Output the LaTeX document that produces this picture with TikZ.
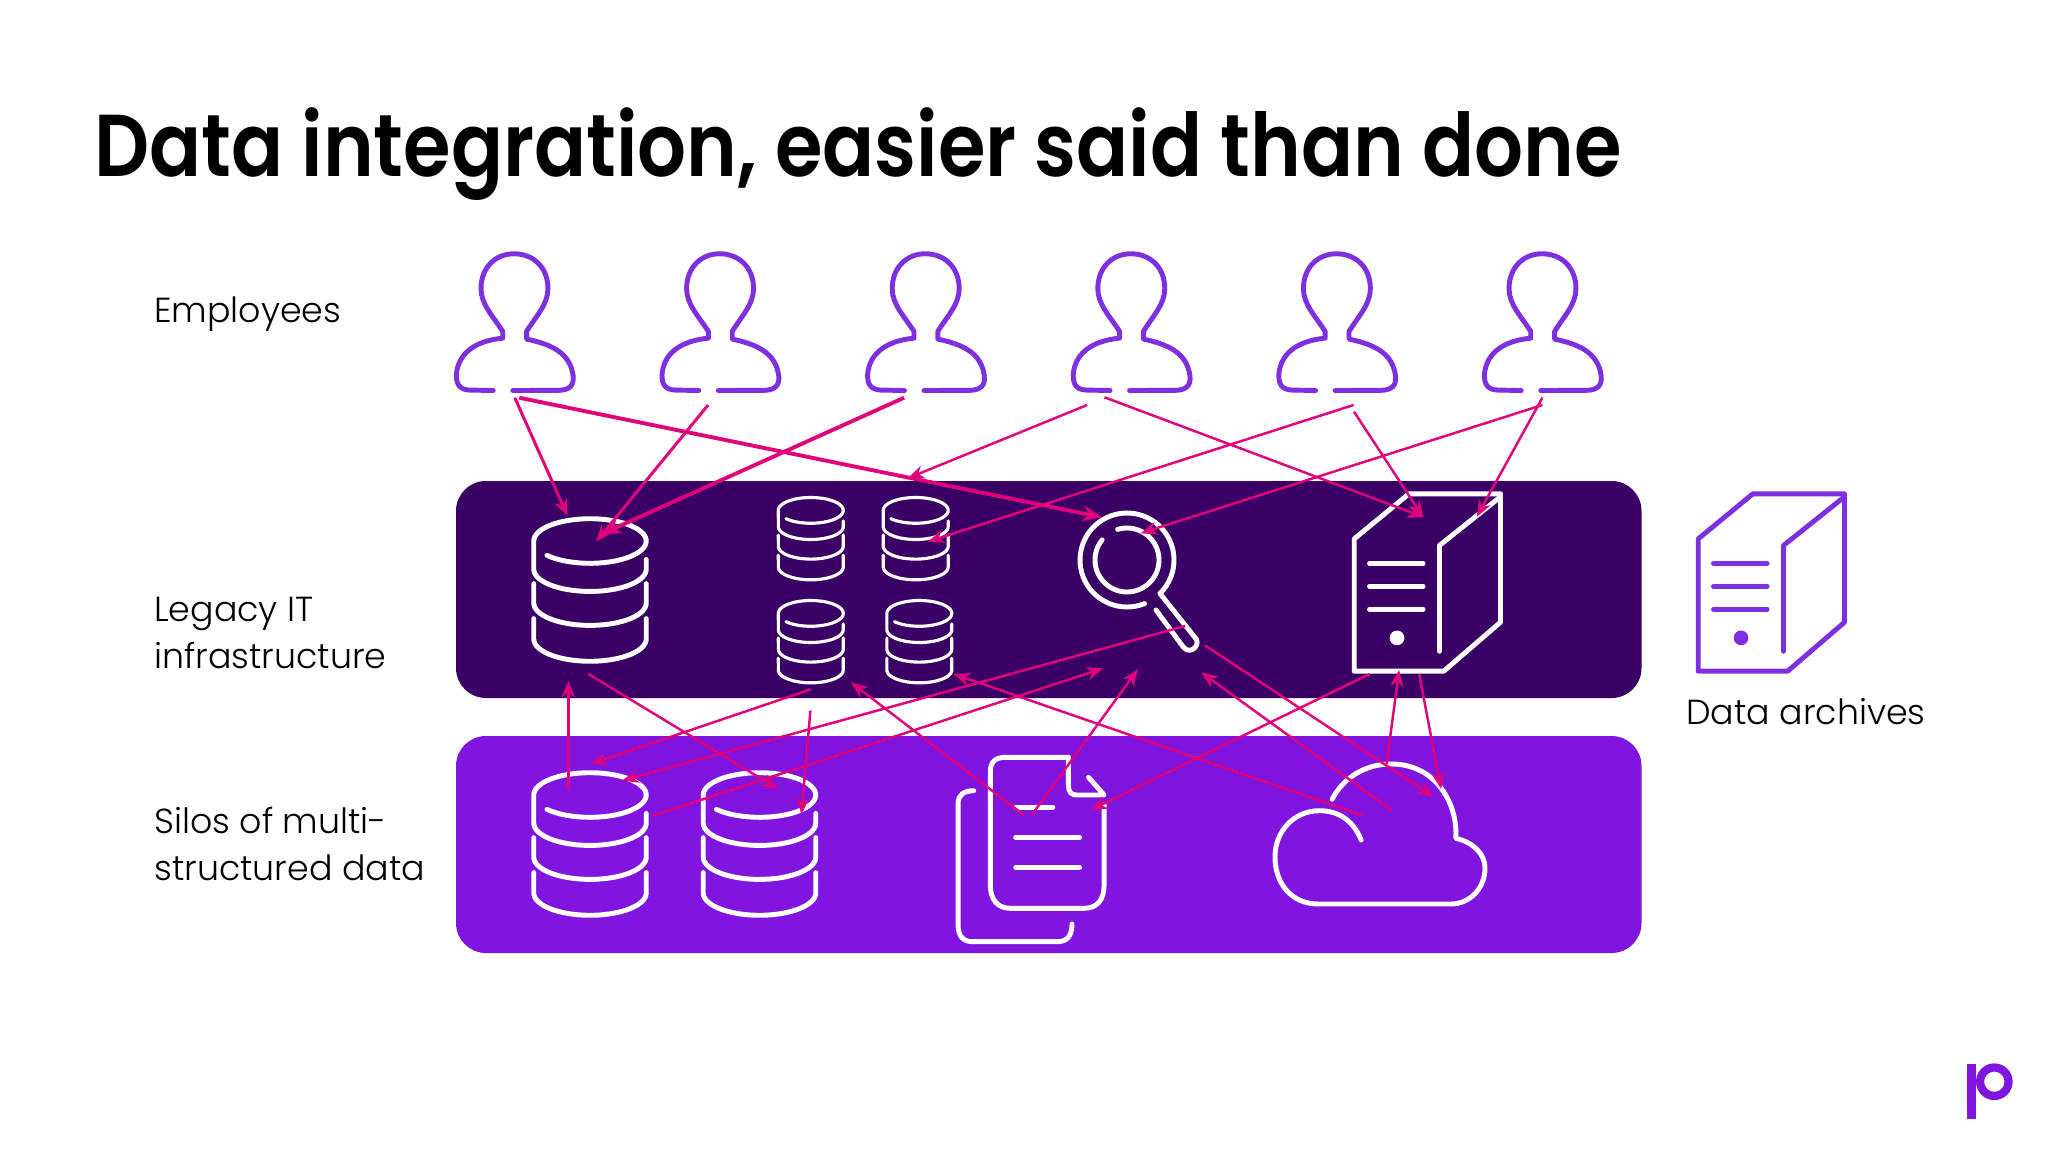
\documentclass[tikz,border=0pt]{standalone}
\usepackage{fontspec}
\usepackage{tikz}
\usetikzlibrary{arrows.meta}
\newfontfamily\titlefont{Poppins SemiBold}
\newfontfamily\labelfont{Poppins Light}
\definecolor{deepviolet}{HTML}{3A0066}
\definecolor{brightviolet}{HTML}{7F15DE}
\definecolor{peoplecolor}{HTML}{7E2FE0}
\definecolor{flowpink}{HTML}{E0007C}
\tikzset{
    iconline/.style={line cap=round,line join=round},
    bigicon/.style={white,line width=2.8pt},
    smallicon/.style={white,line width=1.8pt},
    flow/.style={flowpink,line width=1.4pt,->},
    flowthick/.style={flowpink,line width=2.2pt,-{Stealth[length=11pt,width=9pt]}},
    sidelabel/.style={inner sep=0pt,anchor=north west,align=left,font=\labelfont\fontsize{19.8}{26.6}\selectfont},
    band/.style={rounded corners=17pt},
    dbstack/.pic={
        \draw[iconline](58,42)--plot[domain=0:180,samples=30]({58*cos(\x)},{52+23*sin(\x)})
            --plot[domain=180:500,samples=50]({58*cos(\x)},{23+23*sin(\x)});
        \foreach \ytop/\ymid in {67/87,103/124}
            \draw[iconline](58,\ytop)--plot[domain=0:180,samples=30]({58*cos(\x)},{\ymid+23*sin(\x)})--(-58,\ytop);
    },
    person/.pic={
        \draw[iconline](-21.4,-1)--(-46,-1.5)..controls(-56,-2)and(-59.4,-7)..(-59.4,-17)
            ..controls(-58,-38)and(-42,-52)..(-11.6,-55)--(-11.6,-62)
            ..controls(-22,-78)and(-34,-90)..(-34,-106)..controls(-34,-128)and(-19,-142)..(0,-142)
            ..controls(20,-142)and(35,-128)..(35,-106)..controls(35,-90)and(23,-78)..(13,-62)
            --(13,-54)..controls(42,-48)and(58,-38)..(61,-16)..controls(62,-6)and(57,-1.5)..(46,-1.2)--(-1.3,-1);
    },
    server/.pic={
        \draw[iconline](0,46)--(55.8,0)--(149.3,0)--(149.3,131)--(91.3,181)--(0,181)--cycle;
        \draw[iconline](149.3,3)--(87,52.7)--(87,160.7);
        \foreach \yline in {71,94.4,117.7}
            \draw[iconline](15.6,\yline)--(70.3,\yline);
        \fill(43.7,147)circle(7.5);
    }
}
\begin{document}
\begin{tikzpicture}[x=0.02cm,y=-0.02cm,>={Stealth[length=9.5pt,width=7.5pt]}]
        \fill[white](0,0)rectangle(2048,1152);

        \node[inner sep=0pt,anchor=base west,xscale=0.875,transform shape,font=\titlefont\fontsize{50}{60}\selectfont](title)at(94,177){Data integration, easier said than done};
        \node[sidelabel](employees)at(154,296){Employees};
        \node[sidelabel](legacy)at(154,597){Legacy IT\\infrastructure};
        \node[sidelabel](silos)at(154,807){Silos of multi-\\structured data};
        \node[sidelabel](archives)at(1686,698){Data archives};

        \fill[deepviolet,band](456,481)rectangle(1641.5,698);
        \fill[brightviolet,band](456,736)rectangle(1641.5,953);

        % people
        \foreach \px in {514,719.6,925.2,1130.8,1336.4,1542}
            \pic[peoplecolor,line width=2.8pt,scale=0.97]at(\px,391.5){person};

        % legacy icons
        \pic[bigicon,scale=0.97]at(590,518.7){dbstack};
        \pic[smallicon,scale=0.56]at(810.8,497.5){dbstack};
        \pic[smallicon,scale=0.56]at(915.7,497.5){dbstack};
        \pic[smallicon,scale=0.56]at(810.8,600.5){dbstack};
        \pic[smallicon,scale=0.56]at(919.3,600.5){dbstack};
        \pic[bigicon,scale=0.98]at(1354.2,493.8){server};
        \pic[peoplecolor,line width=2.8pt,scale=0.98]at(1698.2,493.8){server};

        % magnifier
        \begin{scope}[shift={(1127,560)},bigicon]
            \draw[iconline]plot[domain=68:404,samples=60]({47*cos(\x)},{47*sin(\x)})--(32.8,33.3)--(69.4,79.3)
                ..controls(73,87)and(62,95)..(56,86.7)--(29,50);
            \draw[iconline]plot[domain=253:579,samples=60]({32*cos(\x)},{32*sin(\x)});
        \end{scope}

        % silo icons
        \pic[bigicon,scale=0.97]at(590,772.7){dbstack};
        \pic[bigicon,scale=0.97]at(759.5,772.7){dbstack};

        % documents
        \begin{scope}[bigicon]
            \draw[iconline](1068.4,757.3)--(1005.9,757.3)..controls(995,757.3)and(990.3,762)..(990.3,772)
                --(990.3,885)..controls(990.3,900)and(998,908.3)..(1010.4,908.3)
                --(1084,908.3)..controls(1097,908.3)and(1104.1,900)..(1104.1,885)--(1104.1,805);
            \draw[iconline](1068.4,757.3)--(1068.4,785)..controls(1068.4,792)and(1071,795)..(1077,795)--(1104.1,795)--(1088.5,777.3);
            \draw[iconline](1015.7,807.3)--(1052.8,807.3);
            \draw[iconline](1015.7,837.3)--(1079.5,837.3);
            \draw[iconline](1015.7,867.3)--(1079.5,867.3);
            \draw[iconline](973.7,790.7)..controls(964,790.7)and(958.1,795)..(958.1,803)
                --(958.1,925)..controls(958.1,936)and(963,941.7)..(973,941.7)
                --(1057,941.7)..controls(1067,941.7)and(1072,936)..(1072,924);
        \end{scope}

        % cloud
        \begin{scope}[bigicon]
            \draw[iconline](1361.2,840)..controls(1353,820)and(1338,810.7)..(1319.6,810.7)
                ..controls(1294,810.7)and(1275,831)..(1275,857)..controls(1275,884)and(1292,904)..(1318,904)
                --(1451,904)..controls(1470,904)and(1485,888)..(1485,868)..controls(1485,853)and(1472,842)..(1455.8,838.3)
                ..controls(1458,805)and(1437,764)..(1391,764)..controls(1365,764)and(1343,778)..(1332.1,799.3);
        \end{scope}

        % ends of the arrows
        \coordinate(pOneDb)at(514.8,397.7);     \coordinate(bigDbTop)at(567.5,516);
        \coordinate(pOneLens)at(519.3,397.7);   \coordinate(lensLeft)at(1101.9,517.3);
        \coordinate(pTwoDb)at(708.1,405);       \coordinate(bigDbInA)at(596.1,541.7);
        \coordinate(pThreeDb)at(904.1,397.7);   \coordinate(bigDbInB)at(601.9,534);
        \coordinate(pFourBand)at(1087.1,405);   \coordinate(bandTop)at(907.7,478.3);
        \coordinate(pFourSrv)at(1104.5,397.3);  \coordinate(srvTopA)at(1424.1,517.3);
        \coordinate(pFiveDb)at(1353.6,405);     \coordinate(smallDbIn)at(927.8,541.7);
        \coordinate(pFiveSrv)at(1354,411.7);    \coordinate(srvTopB)at(1423.2,517.3);
        \coordinate(pSixLens)at(1542.4,405);    \coordinate(lensIn)at(1140.6,533.3);
        \coordinate(pSixSrv)at(1542.4,397.7);   \coordinate(srvSide)at(1476.8,516.7);
        \coordinate(siloOneUp)at(568.4,790);    \coordinate(bigDbBelow)at(568.4,680.7);
        \coordinate(bigDbDown)at(588.5,674);    \coordinate(siloTwoTop)at(778.2,789);
        \coordinate(smallDbA)at(810.8,689.3);   \coordinate(siloOneTop)at(590.7,764);
        \coordinate(smallDbB)at(810.4,710.7);   \coordinate(siloTwoIn)at(801.4,814.3);
        \coordinate(lensHandle)at(1185.3,626);  \coordinate(siloOneRight)at(622,780.7);
        \coordinate(siloOneOut)at(651.9,816);   \coordinate(lensLowA)at(1103.2,668.3);
        \coordinate(docUpA)at(1023.8,815);      \coordinate(smallDbLow)at(851,682.3);
        \coordinate(docUpB)at(1031.7,815);      \coordinate(lensLowB)at(1137.9,669.3);
        \coordinate(cloudA)at(1363.4,815.7);    \coordinate(smallDbD)at(953.6,674);
        \coordinate(cloudB)at(1392.4,810.7);    \coordinate(lensLowC)at(1201.3,672.3);
        \coordinate(lensDown)at(1204.9,645.3);  \coordinate(cloudIn)at(1433.5,796.7);
        \coordinate(srvLowA)at(1369.6,674);     \coordinate(docIn)at(1090.6,810);
        \coordinate(cloudTop)at(1386.6,764);    \coordinate(srvBottom)at(1399.1,670);
        \coordinate(srvLowB)at(1419.2,674.3);   \coordinate(cloudSide)at(1441.1,789);

        % arrows
        \draw[flow,line width=1.7pt](pOneDb)--(bigDbTop);
        \draw[flowthick](pOneLens)--(lensLeft);
        \draw[flow,line width=1.7pt](pTwoDb)--(bigDbInA);
        \draw[flowthick](pThreeDb)--(bigDbInB);
        \draw[flow](pFourBand)--(bandTop);
        \draw[flow](pFourSrv)--(srvTopA);
        \draw[flow](pFiveDb)--(smallDbIn);
        \draw[flow](pFiveSrv)--(srvTopB);
        \draw[flow](pSixLens)--(lensIn);
        \draw[flow](pSixSrv)--(srvSide);
        \draw[flow](siloOneUp)--(bigDbBelow);
        \draw[flow](bigDbDown)--(siloTwoTop);
        \draw[flow](smallDbA)--(siloOneTop);
        \draw[flow](smallDbB)--(siloTwoIn);
        \draw[flow](lensHandle)--(siloOneRight);
        \draw[flow](siloOneOut)--(lensLowA);
        \draw[flow](docUpA)--(smallDbLow);
        \draw[flow](docUpB)--(lensLowB);
        \draw[flow](cloudA)--(smallDbD);
        \draw[flow](cloudB)--(lensLowC);
        \draw[flow](lensDown)--(cloudIn);
        \draw[flow](srvLowA)--(docIn);
        \draw[flow](cloudTop)--(srvBottom);
        \draw[flow](srvLowB)--(cloudSide);

        % logo
        \fill[brightviolet](1966.7,1064)rectangle(1975.7,1119);
        \draw[brightviolet,line width=4.7pt](1994.3,1081.7)circle(14.2);
    \end{tikzpicture}
\end{document}
